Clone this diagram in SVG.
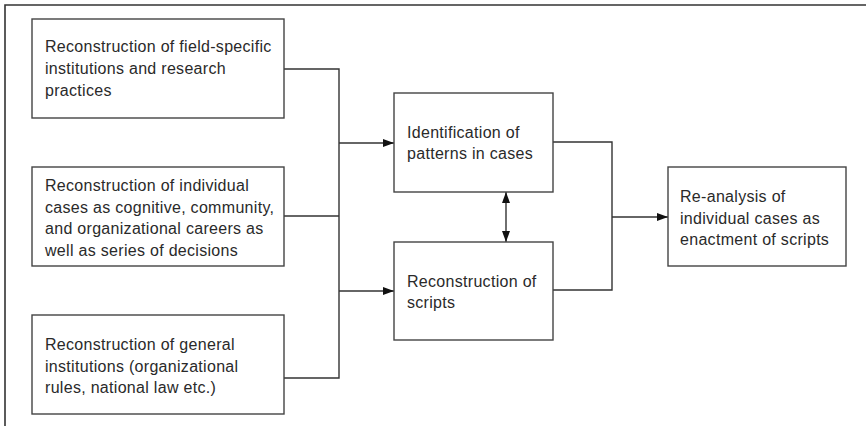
<svg xmlns="http://www.w3.org/2000/svg" width="866" height="426" viewBox="0 0 866 426">
<defs>
<marker id="ah" viewBox="0 0 11 8" refX="11" refY="4" markerWidth="11" markerHeight="8" markerUnits="userSpaceOnUse" orient="auto-start-reverse">
<path d="M0,0 L11,4 L0,8 Z" fill="#111"/>
</marker>
<style>
.box{fill:#fff;stroke:#444;stroke-width:1.4}
.t{font-family:"Liberation Sans",Arial,sans-serif;font-size:16px;fill:#2a2a2a;letter-spacing:0.3px}
.c{fill:none;stroke:#333;stroke-width:1.4}
</style>
</defs>
<rect width="866" height="426" fill="#fff"/>
<path d="M5,426 V5 H866" fill="none" stroke="#333" stroke-width="1.6"/>
<g id="connectors">
<path class="c" d="M284,69 H339 V378 H284"/>
<path class="c" d="M284,216 H339"/>
<path class="c" d="M339,143 H394" marker-end="url(#ah)"/>
<path class="c" d="M339,291 H394" marker-end="url(#ah)"/>
<path class="c" d="M506,192 V242" marker-start="url(#ah)" marker-end="url(#ah)"/>
<path class="c" d="M553,142 H612 V290 H553"/>
<path class="c" d="M612,217 H668" marker-end="url(#ah)"/>
</g>
<g id="n1">
<rect class="box" x="32" y="19" width="252" height="99"/>
<text class="t" x="45" y="52">Reconstruction of field-specific</text>
<text class="t" x="45" y="74">institutions and research</text>
<text class="t" x="45" y="96">practices</text>
</g>
<g id="n2">
<rect class="box" x="32" y="167" width="252" height="99"/>
<text class="t" x="45" y="191">Reconstruction of individual</text>
<text class="t" x="45" y="212.5">cases as cognitive, community,</text>
<text class="t" x="45" y="234">and organizational careers as</text>
<text class="t" x="45" y="255.5">well as series of decisions</text>
</g>
<g id="n3">
<rect class="box" x="32" y="315" width="252" height="99"/>
<text class="t" x="45" y="350">Reconstruction of general</text>
<text class="t" x="45" y="371.5">institutions (organizational</text>
<text class="t" x="45" y="393">rules, national law etc.)</text>
</g>
<g id="n4">
<rect class="box" x="394" y="93" width="159" height="99"/>
<text class="t" x="407" y="138">Identification of</text>
<text class="t" x="407" y="159">patterns in cases</text>
</g>
<g id="n5">
<rect class="box" x="394" y="242" width="159" height="98"/>
<text class="t" x="407" y="287">Reconstruction of</text>
<text class="t" x="407" y="308">scripts</text>
</g>
<g id="n6">
<rect class="box" x="668" y="167" width="178" height="99"/>
<text class="t" x="680" y="202">Re-analysis of</text>
<text class="t" x="680" y="223.5">individual cases as</text>
<text class="t" x="680" y="245">enactment of scripts</text>
</g>
</svg>
